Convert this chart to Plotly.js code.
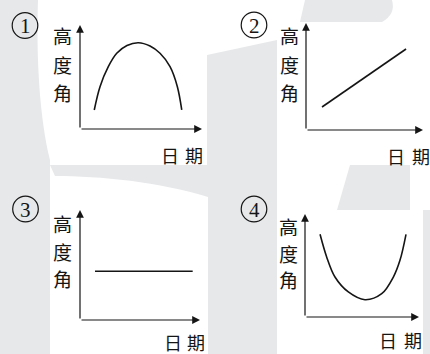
<!DOCTYPE html>
<html>
<head>
<meta charset="utf-8">
<script src="https://cdn.plot.ly/plotly-3.0.1.min.js"></script>
<style>
  html, body { margin: 0; padding: 0; background: #ffffff; }
  #chart { width: 430px; height: 354px; }
</style>
</head>
<body>
<div id="chart"></div>
<script>
// Sun altitude angle (高度角) against date (日期), four alternative sketches.
const panelNumbers = ['1', '2', '3', '4'];
const yTitle = '高度角';
const xTitle = '日期';

// ① rises to a maximum then falls
const dates1 = [1.17, 1.64, 2.32, 3.01, 3.85, 4.78, 5.74, 6.56, 7.38, 7.98, 8.34];
const alt1   = [1.83, 4.07, 5.99, 7.28, 8.03, 8.30, 7.98, 7.28, 5.99, 4.07, 1.83];

// ② increases steadily
const dates2 = [1.37, 8.55];
const alt2   = [2.15, 7.57];

// ③ stays constant
const dates3 = [1.25, 9.39];
const alt3   = [4.43, 4.43];

// ④ falls to a minimum then rises
const dates4 = [1.32, 1.90, 2.63, 3.80, 5.26, 6.73, 7.75, 8.33, 8.86];
const alt4   = [8.03, 5.83, 3.88, 2.43, 1.68, 2.26, 3.88, 5.50, 8.03];

const W = 430, H = 354;
const fx = v => v / W;          // pixel -> paper (x)
const fy = v => 1 - v / H;      // pixel -> paper (y)

const INK = '#151515';
const SHADE = '#e7e8ea';

// Axis boxes in pixels: [left, right(arrow tip), bottom(origin), top(arrow tip)]
const boxes = [
  [80, 202, 129, 25],
  [306, 423, 130, 23],
  [80, 200, 320, 210],
  [305, 419, 317, 214]
];

const series = [[dates1, alt1], [dates2, alt2], [dates3, alt3], [dates4, alt4]];

const traces = series.map(([xs, ys], i) => ({
  x: xs, y: ys,
  xaxis: i === 0 ? 'x' : 'x' + (i + 1),
  yaxis: i === 0 ? 'y' : 'y' + (i + 1),
  type: 'scatter', mode: 'lines',
  line: { shape: 'spline', smoothing: 1, color: INK, width: 1.6 },
  hoverinfo: 'skip', showlegend: false
}));

const layout = {
  width: W, height: H,
  margin: { l: 0, r: 0, t: 0, b: 0, pad: 0 },
  paper_bgcolor: '#ffffff',
  plot_bgcolor: 'rgba(0,0,0,0)',
  showlegend: false,
  shapes: [],
  annotations: []
};

boxes.forEach((b, i) => {
  const s = i === 0 ? '' : String(i + 1);
  layout['xaxis' + s] = {
    domain: [fx(b[0]), fx(b[1])], range: [0, 10], anchor: 'y' + s,
    visible: false, fixedrange: true
  };
  layout['yaxis' + s] = {
    domain: [fy(b[2]), fy(b[3])], range: [0, 10], anchor: 'x' + s,
    visible: false, fixedrange: true
  };
});

// Light background emblem
const bgPaths = [
  'M0,0 L38,0 C36,60 40,120 50,160 L50,354 L0,354 Z',
  'M50,165 L207,165 L207,55 L277,40 L277,354 L208,354 L208,197 C160,182 100,176 55,176 Z',
  'M305,0 L392,0 Q396,14 382,22 L300,22 Z',
  'M350,165 L410,165 L410,210 L337,210 Z',
  'M423,210 L430,210 L430,354 L423,354 Z'
];
bgPaths.forEach(p => {
  const path = p.replace(/(-?\d+(?:\.\d+)?),(-?\d+(?:\.\d+)?)/g,
    (m, a, c) => fx(+a).toFixed(5) + ',' + fy(+c).toFixed(5));
  layout.shapes.push({
    type: 'path', path, xref: 'paper', yref: 'paper',
    fillcolor: SHADE, line: { width: 0 }, layer: 'below'
  });
});

// White cards behind each sketch
[[50, 0, 206, 165], [277, 22, 430, 165], [50, 210, 208, 354], [277, 210, 423, 354]]
  .forEach(r => layout.shapes.push({
    type: 'rect', xref: 'paper', yref: 'paper',
    x0: fx(r[0]), x1: fx(r[2]), y0: fy(r[3]), y1: fy(r[1]),
    fillcolor: '#ffffff', line: { width: 0 }, layer: 'below'
  }));

// Circled panel numbers
const numCenters = [[25, 25.5], [254, 25], [25.5, 209], [254, 209]];
numCenters.forEach(([cx, cy], i) => {
  const r = 12.8;
  layout.shapes.push({
    type: 'circle', xref: 'paper', yref: 'paper',
    x0: fx(cx - r), x1: fx(cx + r), y0: fy(cy + r), y1: fy(cy - r),
    line: { color: INK, width: 1.2 }, fillcolor: 'rgba(0,0,0,0)', layer: 'above'
  });
  layout.annotations.push({
    xref: 'paper', yref: 'paper', x: fx(cx), y: fy(cy + 0.5),
    xanchor: 'center', yanchor: 'middle', showarrow: false,
    text: panelNumbers[i],
    font: { family: 'Liberation Serif, serif', size: 21, color: INK }
  });
});

// Axes drawn as arrows from the origin
boxes.forEach((b, i) => {
  const s = i === 0 ? '' : String(i + 1);
  const common = {
    xref: 'x' + s, yref: 'y' + s, axref: 'x' + s, ayref: 'y' + s,
    ax: 0, ay: 0, text: '', showarrow: true,
    arrowhead: 2, arrowsize: 1.3, arrowwidth: 1.2, arrowcolor: INK, standoff: 0
  };
  layout.annotations.push(Object.assign({ x: 10, y: 0 }, common));
  layout.annotations.push(Object.assign({ x: 0, y: 10 }, common));
});

// Axis captions, one glyph per position
const yTitlePos = [
  [62, [36, 64, 92]],
  [289, [35, 64, 92]],
  [62, [223, 251, 278]],
  [288, [226, 253, 279]]
];
const xTitlePos = [
  [[170, 193.5], 155],
  [[396, 421], 156],
  [[172.5, 196], 341.5],
  [[387.5, 412.5], 340]
];
const cjk = { family: 'Noto Sans CJK SC, sans-serif', color: INK };

yTitlePos.forEach(([x, ys]) => {
  Array.from(yTitle).forEach((ch, k) => layout.annotations.push({
    xref: 'paper', yref: 'paper', x: fx(x), y: fy(ys[k]),
    xanchor: 'center', yanchor: 'middle', showarrow: false, borderpad: 0,
    text: ch, font: Object.assign({ size: 19 }, cjk)
  }));
});
xTitlePos.forEach(([xs, y]) => {
  Array.from(xTitle).forEach((ch, k) => layout.annotations.push({
    xref: 'paper', yref: 'paper', x: fx(xs[k]), y: fy(y),
    xanchor: 'center', yanchor: 'middle', showarrow: false, borderpad: 0,
    text: ch, font: Object.assign({ size: 18 }, cjk)
  }));
});

Plotly.newPlot('chart', traces, layout, { staticPlot: true, displayModeBar: false });
</script>
</body>
</html>
